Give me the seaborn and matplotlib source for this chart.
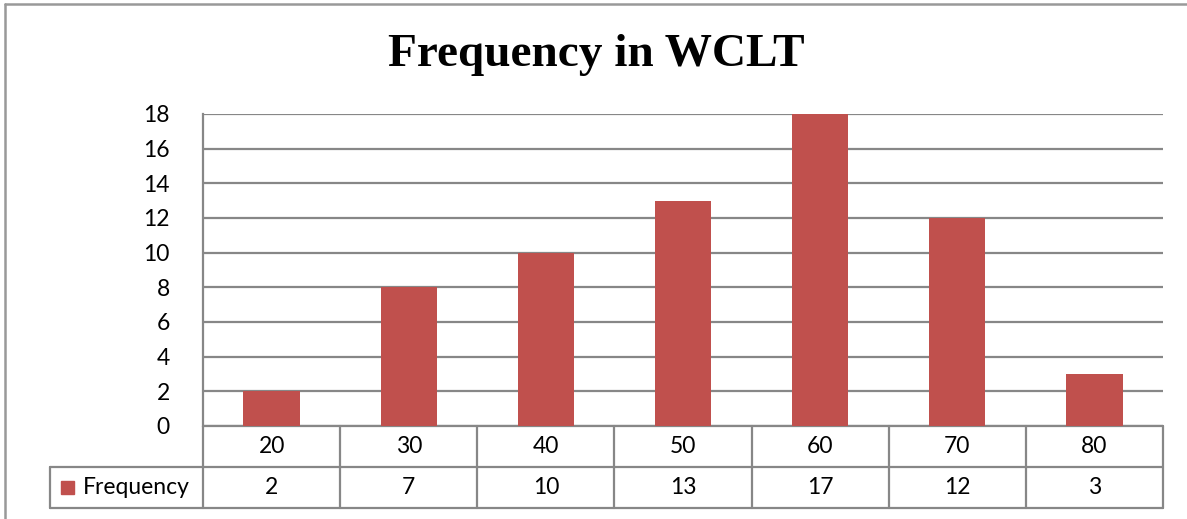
import matplotlib
matplotlib.use("Agg")
import matplotlib.pyplot as plt
from matplotlib.lines import Line2D
from matplotlib.patches import Rectangle
import seaborn as sns
import pandas as pd

# values
categories = ["20", "30", "40", "50", "60", "70", "80"]
bar_heights = [2, 8, 10, 13, 18, 12, 3]
table_values = ["2", "7", "10", "13", "17", "12", "3"]
yticks = [0, 2, 4, 6, 8, 10, 12, 14, 16, 18]

W, H = 1187, 519
bar_color = "#C0504D"
line_color = "#878787"
fs = 16.5

sns.set_style("white")
plt.rcParams["font.family"] = ["Lato", "DejaVu Sans"]
plt.rcParams["text.color"] = "black"
plt.rcParams["ytick.color"] = "black"

df = pd.DataFrame({"score": categories, "freq": bar_heights})

fig = plt.figure(figsize=(W / 100, H / 100), dpi=100)

# plot area in pixels: x 203..1163, y 114..426
left, right, top, bottom = 203, 1163, 114, 426
ax = fig.add_axes([left / W, 1 - bottom / H, (right - left) / W, (bottom - top) / H])

sns.barplot(data=df, x="score", y="freq", color=bar_color, width=0.41,
            saturation=1, linewidth=0, edgecolor=bar_color, ax=ax, zorder=3)

ax.set_ylim(0, 18)
ax.set_xlim(-0.5, len(categories) - 0.5)
ax.set_yticks(yticks)
ax.set_yticklabels([str(t) for t in yticks], fontsize=fs, color="black")
ax.tick_params(axis="y", length=0, pad=24)
ax.set_xticks([])
ax.set_xlabel("")
ax.set_ylabel("")
ax.yaxis.grid(True, color=line_color, linewidth=1.6)
ax.set_axisbelow(True)
for s in ["top", "right", "bottom"]:
    ax.spines[s].set_visible(False)
ax.spines["left"].set_color(line_color)
ax.spines["left"].set_linewidth(1.6)

# data table below the plot
row_h = 41 / (bottom - top)
hdr_left = (50 - left) / (right - left)
n = len(categories)
tkw = dict(transform=ax.transAxes, color=line_color, linewidth=1.6, clip_on=False)
ax.add_line(Line2D([0, 1], [0, 0], **tkw))
ax.add_line(Line2D([hdr_left, 1], [-row_h, -row_h], **tkw))
ax.add_line(Line2D([hdr_left, 1], [-2 * row_h, -2 * row_h], **tkw))
ax.add_line(Line2D([hdr_left, hdr_left], [-row_h, -2 * row_h], **tkw))
for k in range(n + 1):
    ax.add_line(Line2D([k / n, k / n], [0, -2 * row_h], **tkw))
for k in range(n):
    xc = (k + 0.5) / n
    ax.text(xc, -0.5 * row_h, categories[k], transform=ax.transAxes,
            ha="center", va="center", fontsize=fs, color="black")
    ax.text(xc, -1.5 * row_h, table_values[k], transform=ax.transAxes,
            ha="center", va="center", fontsize=fs, color="black")

# legend key in the header cell
fig.add_artist(Rectangle((61 / W, 1 - 494 / H), 13 / W, 13 / H,
                         transform=fig.transFigure, color=bar_color))
fig.text(83 / W, 1 - 488 / H, "Frequency", ha="left", va="center",
         fontsize=fs, color="black")

# outer chart border (top and left only visible)
fig.add_artist(Line2D([5 / W, 1], [1 - 4 / H, 1 - 4 / H], transform=fig.transFigure,
                      color="#999999", linewidth=1.8))
fig.add_artist(Line2D([5 / W, 5 / W], [0, 1 - 4 / H], transform=fig.transFigure,
                      color="#999999", linewidth=1.8))

fig.text(0.502, 1 - 55 / H, "Frequency in WCLT", ha="center", va="center",
         fontsize=34, fontweight="bold", color="black",
         family=["Liberation Serif", "DejaVu Serif"])

fig.savefig("out.png", dpi=100)
